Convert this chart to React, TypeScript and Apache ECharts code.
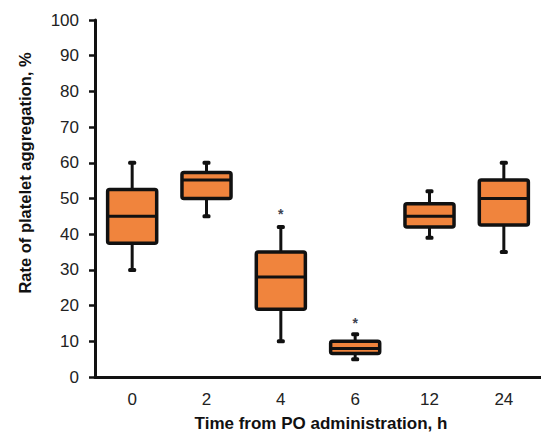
import React, { useEffect, useRef } from "react";
import * as echarts from "echarts";

const categories = ["0", "2", "4", "6", "12", "24"];
const whiskerMin = [30, 45, 10, 5, 39, 35];
const q1Values = [37.5, 50, 19, 6.6, 42, 42.6];
const medianValues = [45, 55.2, 28, 8, 45, 50];
const q3Values = [52.5, 57.3, 35, 10, 48.5, 55.2];
const whiskerMax = [60, 60, 42, 12, 52, 60];
const starCategoryIndex = [2, 3];
const starValues = [46.6, 16];
const yTicks = { min: 0, max: 100, interval: 10 };

const FILL = "#F0843D";
const EDGE = "#111111";

export default function App() {
  const ref = useRef<HTMLDivElement>(null);
  useEffect(() => {
    document.body.style.margin = "0";
    const chart = echarts.init(ref.current!, null, { renderer: "svg" });
    const boxData = categories.map((_, i) => [
      i,
      whiskerMin[i],
      q1Values[i],
      medianValues[i],
      q3Values[i],
      whiskerMax[i],
    ]);
    const starData = starCategoryIndex.map((c, i) => [c, starValues[i]]);
    chart.setOption({
      animation: false,
      grid: { left: 95, top: 20, height: 357, width: 453 },
      xAxis: {
        type: "category",
        data: categories,
        axisLine: { lineStyle: { color: "#111", width: 3 } },
        axisTick: { alignWithLabel: true, length: 3, lineStyle: { color: "#222", width: 2 } },
        axisLabel: { color: "#222", fontSize: 17, fontFamily: "Liberation Sans, Arial", margin: 14 },
        splitLine: { show: false },
      },
      yAxis: {
        type: "value",
        min: yTicks.min,
        max: yTicks.max,
        interval: yTicks.interval,
        axisLine: { show: true, lineStyle: { color: "#111", width: 3 } },
        axisTick: { show: true, length: 6, lineStyle: { color: "#111", width: 2.5 } },
        axisLabel: { color: "#222", fontSize: 17, fontFamily: "Liberation Sans, Arial", margin: 16 },
        splitLine: { show: false },
      },
      graphic: [
        {
          type: "text",
          x: 25,
          y: 173,
          rotation: Math.PI / 2,
          style: {
            text: "Rate of platelet aggregation, %",
            font: "bold 16.5px 'Liberation Sans', Arial",
            fill: "#111",
            align: "center",
            verticalAlign: "middle",
          },
        },
        {
          type: "text",
          x: 321,
          y: 423,
          style: {
            text: "Time from PO administration, h",
            font: "bold 17px 'Liberation Sans', Arial",
            fill: "#111",
            align: "center",
            verticalAlign: "middle",
          },
        },
      ],
      series: [
        {
          type: "custom",
          data: boxData,
          encode: { x: 0, y: [1, 2, 3, 4, 5] },
          renderItem: (params: any, api: any) => {
            const x = api.value(0);
            const pMin = api.coord([x, api.value(1)]);
            const pQ1 = api.coord([x, api.value(2)]);
            const pMed = api.coord([x, api.value(3)]);
            const pQ3 = api.coord([x, api.value(4)]);
            const pMax = api.coord([x, api.value(5)]);
            const band = api.size([1, 0])[0];
            const bw = band * 0.66;
            const cx = pMed[0];
            const capW = 8;
            const lineStyle = { stroke: EDGE, lineWidth: 3 };
            return {
              type: "group",
              children: [
                { type: "line", shape: { x1: cx, y1: pQ1[1], x2: cx, y2: pMin[1] }, style: lineStyle },
                { type: "line", shape: { x1: cx, y1: pQ3[1], x2: cx, y2: pMax[1] }, style: lineStyle },
                {
                  type: "rect",
                  shape: { x: cx - capW / 2, y: pMin[1] - 2, width: capW, height: 4, r: 1.5 },
                  style: { fill: EDGE },
                },
                {
                  type: "rect",
                  shape: { x: cx - capW / 2, y: pMax[1] - 2, width: capW, height: 4, r: 1.5 },
                  style: { fill: EDGE },
                },
                {
                  type: "rect",
                  shape: { x: cx - bw / 2, y: pQ3[1], width: bw, height: pQ1[1] - pQ3[1], r: 2 },
                  style: { fill: FILL, stroke: EDGE, lineWidth: 3.5 },
                },
                {
                  type: "line",
                  shape: { x1: cx - bw / 2, y1: pMed[1], x2: cx + bw / 2, y2: pMed[1] },
                  style: { stroke: EDGE, lineWidth: 3 },
                },
              ],
            };
          },
          z: 3,
        },
        {
          type: "custom",
          data: starData,
          encode: { x: 0, y: 1 },
          renderItem: (params: any, api: any) => {
            const p = api.coord([api.value(0), api.value(1)]);
            return {
              type: "text",
              x: p[0],
              y: p[1] + 3,
              style: {
                text: "*",
                font: "bold 14px 'Liberation Sans', Arial",
                fill: "#3d4250",
                align: "center",
                verticalAlign: "middle",
              },
            };
          },
          z: 4,
        },
      ],
    });
    return () => chart.dispose();
  }, []);
  return <div ref={ref} style={{ width: 541, height: 432 }} />;
}
